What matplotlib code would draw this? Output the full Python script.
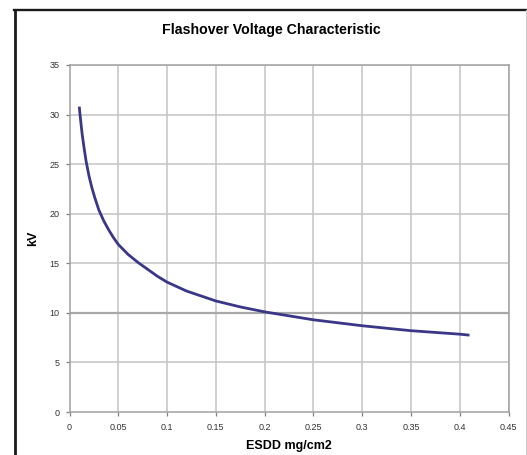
import matplotlib.pyplot as plt
from matplotlib.lines import Line2D

# values
esdd = [0.010, 0.011, 0.012, 0.013, 0.015, 0.017, 0.020, 0.023, 0.026, 0.030,
        0.035, 0.040, 0.045, 0.050, 0.060, 0.070, 0.080, 0.090, 0.100, 0.120,
        0.150, 0.175, 0.200, 0.250, 0.300, 0.350, 0.400, 0.410]
kv = [30.8, 29.8, 28.9, 28.0, 26.6, 25.3, 23.8, 22.6, 21.6, 20.4,
      19.3, 18.4, 17.6, 16.9, 15.9, 15.1, 14.4, 13.7, 13.1, 12.2,
      11.2, 10.6, 10.1, 9.3, 8.7, 8.2, 7.85, 7.75]
x_ticks = [0, 0.05, 0.1, 0.15, 0.2, 0.25, 0.3, 0.35, 0.4, 0.45]
x_tick_labels = ['0', '0.05', '0.1', '0.15', '0.2', '0.25', '0.3', '0.35', '0.4', '0.45']
y_ticks = [0, 5, 10, 15, 20, 25, 30, 35]

plt.rcParams['font.family'] = ['Liberation Sans', 'DejaVu Sans']

fig = plt.figure(figsize=(5.27, 4.55), dpi=100)
ax = fig.add_axes([69.5 / 527, 1 - 412 / 455, 439 / 527, 347 / 455])

grid_col = '#c4c4c4'
for xv in x_ticks[1:]:
     ax.axvline(xv, color=grid_col, lw=1.1, zorder=1)
for yv in y_ticks[1:]:
     if yv == 10:
          ax.axhline(yv, color='#a8a8a8', lw=1.6, zorder=1)
     else:
          ax.axhline(yv, color=grid_col, lw=1.1, zorder=1)

ax.plot(esdd, kv, color='#3a3688', lw=2.0, zorder=3, solid_capstyle='butt')

ax.set_xlim(0, 0.45)
ax.set_ylim(0, 35)
ax.set_xticks(x_ticks)
ax.set_xticklabels(x_tick_labels)
ax.set_yticks(y_ticks)
for s in ax.spines.values():
     s.set_color('#a0a0a0')
     s.set_linewidth(1.1)
ax.tick_params(axis='both', length=3, width=0.9, color='#808080', labelsize=6.5,
               labelcolor='#333333', pad=4)
ax.tick_params(axis='x', pad=5)

ax.set_xlabel('ESDD mg/cm2', fontsize=9, fontweight='bold', labelpad=6)
ax.set_ylabel('kV', fontsize=9, fontweight='bold', labelpad=8)
fig.text(271 / 527, 1 - 30 / 455, 'Flashover Voltage Characteristic', ha='center', va='center',
         fontsize=10.2, fontweight='bold')

# chart frame
fig.add_artist(Line2D([14.5 / 527, 14.5 / 527], [0, 1 - 9.5 / 455], color='#1a1a1a', lw=2.0,
                      transform=fig.transFigure))
fig.add_artist(Line2D([13.5 / 527, 525.5 / 527], [1 - 10 / 455, 1 - 10 / 455], color='#1a1a1a', lw=1.7,
                      transform=fig.transFigure))
fig.add_artist(Line2D([525.5 / 527, 525.5 / 527], [0, 1 - 10 / 455], color='#d0d0d0', lw=0.8,
                      transform=fig.transFigure))

plt.savefig('out.png', dpi=100)
